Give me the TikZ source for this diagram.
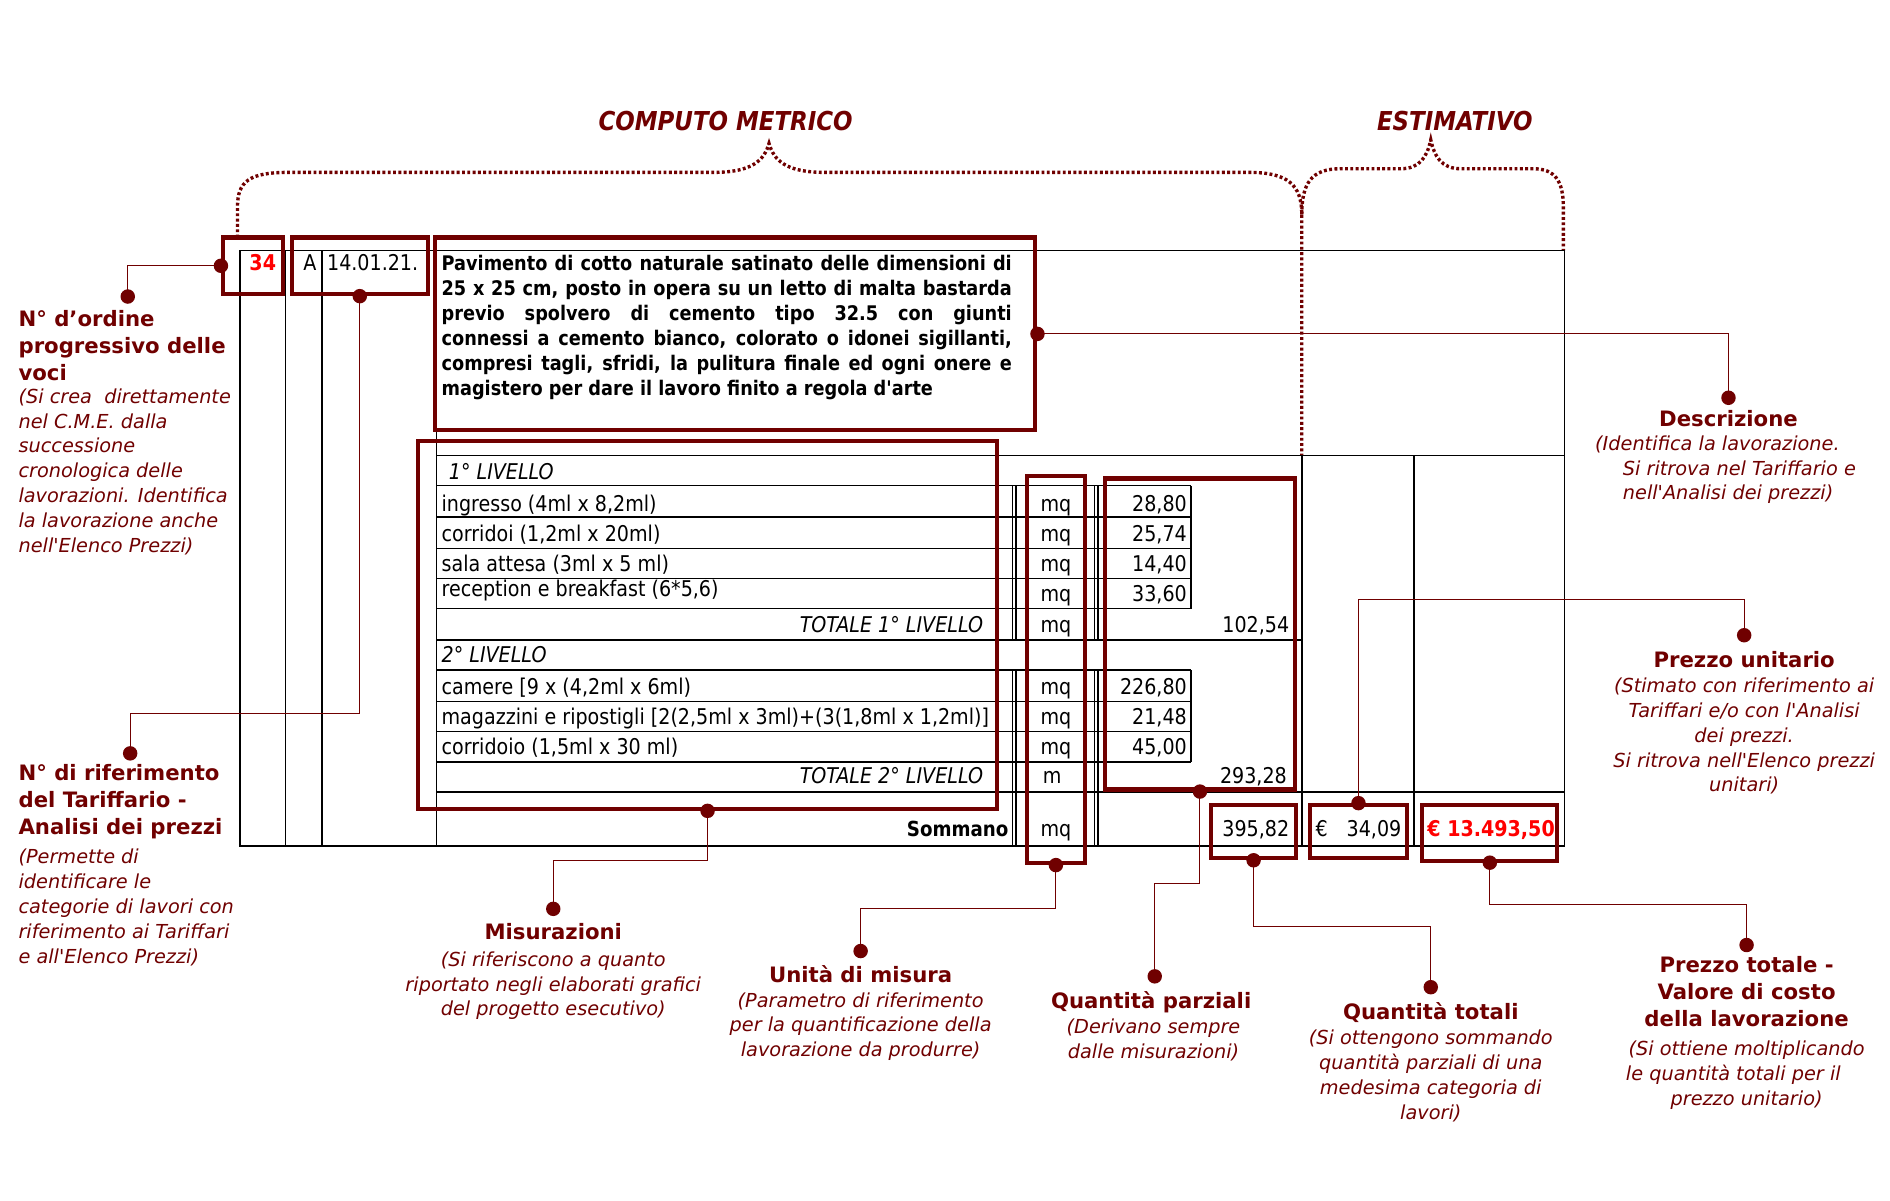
\documentclass[tikz,border=0pt]{standalone}
\usepackage{fontspec}
\setmainfont{DejaVu Sans}
\newfontfamily\notefont{DejaVu Sans}
\newfontfamily\tabfont[FakeStretch=0.88]{DejaVu Sans}
\usetikzlibrary{fit}
\definecolor{maroon}{RGB}{112,0,0}
\definecolor{rosso}{RGB}{255,0,0}
\newcommand{\jl}[1]{\makebox[236.5pt][s]{#1}}

\begin{document}
\begin{tikzpicture}[x=0.5pt,y=-0.5pt,
  tline/.style={line width=0.6pt,black},
  rbox/.style={draw=maroon,line width=1.7pt,inner sep=0pt},
  conn/.style={maroon,line width=0.45pt},
  blob/.style={circle,fill=maroon,inner sep=0pt,minimum size=6pt},
  bracepath/.style={maroon,line width=1.4pt,dash pattern=on 1.2pt off 1pt},
  tcell/.style={font=\tabfont\fontsize{9}{10.5}\selectfont,inner sep=0pt},
  tital/.style={font=\tabfont\itshape\fontsize{9}{10.5}\selectfont,inner sep=0pt},
  ttl/.style={font=\notefont\bfseries\fontsize{8.8}{11.2}\selectfont,text=maroon,inner sep=0pt},
  note/.style={font=\notefont\itshape\fontsize{8}{10.3}\selectfont,text=maroon,inner sep=0pt}]
\useasboundingbox (0,0) rectangle (1568,996);
\fill[white] (0,0) rectangle (1568,996);

% graffe
\node[font=\tabfont\bfseries\itshape\fontsize{10.8}{13}\selectfont,text=maroon] (tcomp) at (602,100) {COMPUTO METRICO};
\node[font=\tabfont\bfseries\itshape\fontsize{10.8}{13}\selectfont,text=maroon] (testi) at (1207,100) {ESTIMATIVO};
\draw[bracepath] (197,197) -- (197,172) .. controls (197,150) and (207,143) .. (240,143) -- (592,143) .. controls (624,143) and (634,133) .. (638,119) .. controls (642,133) and (652,143) .. (684,143) -- (1036,143) .. controls (1068,143) and (1080,153) .. (1080,178) -- (1080,378);
\draw[bracepath] (1080,178) .. controls (1080,152) and (1088,140) .. (1112,140) -- (1162,140) .. controls (1178,140) and (1184,130) .. (1187,116) .. controls (1190,130) and (1196,140) .. (1212,140) -- (1272,140) .. controls (1290,140) and (1297,150) .. (1297,172) -- (1297,208);

% tabella
\draw[tline] (199,208) rectangle (1298,702);
\draw[tline] (237,208) -- (237,702) (267,208) -- (267,702) (362,208) -- (362,702);
\draw[tline] (362,378) -- (1298,378);
\draw[tline] (1080,378) -- (1080,702) (1173,378) -- (1173,702);
\draw[tline] (362,403) -- (988,403) (362,429) -- (988,429) (362,455) -- (988,455) (362,480) -- (988,480) (362,505) -- (988,505);
\draw[tline] (362,556) -- (988,556) (362,582) -- (988,582) (362,607) -- (988,607) (362,632) -- (988,632);
\draw[tline] (362,531) -- (1080,531) (362,657) -- (1298,657);
\draw[tline] (840,403) -- (840,531) (840,556) -- (840,702) (843,403) -- (843,531) (843,556) -- (843,702);
\draw[tline] (908,403) -- (908,531) (908,556) -- (908,702) (911,403) -- (911,531) (911,556) -- (911,702);
\draw[tline] (988,403) -- (988,505) (988,556) -- (988,632);

\node[tcell,anchor=base,text=rosso,font=\tabfont\bfseries\fontsize{9}{10.5}\selectfont] (num) at (218,224) {34};
\node[tcell,anchor=base east] (lett) at (263,224) {A};
\node[tcell,anchor=base west] (data) at (271,224) {14.01.21.};
\node[tcell,anchor=north west,align=left,font=\tabfont\bfseries\fontsize{8.35}{10.4}\selectfont] (descr) at (366,211) {\jl{Pavimento di cotto naturale satinato delle dimensioni di}\\\jl{25 x 25 cm, posto in opera su un letto di malta bastarda}\\\jl{previo spolvero di cemento tipo 32.5 con giunti}\\\jl{connessi a cemento bianco, colorato o idonei sigillanti,}\\\jl{compresi tagli, sfridi, la pulitura finale ed ogni onere e}\\magistero per dare il lavoro finito a regola d'arte};

\node[tital,anchor=base west] (liv1) at (372,398) {1° LIVELLO};
\node[tcell,anchor=base west] (v1) at (366,424) {ingresso (4ml x 8,2ml)};
\node[tcell,anchor=base west] (v2) at (366,449) {corridoi (1,2ml x 20ml)};
\node[tcell,anchor=base west] (v3) at (366,474) {sala attesa (3ml x 5 ml)};
\node[tcell,anchor=base west] (v4) at (366,495) {reception e breakfast (6*5,6)};
\node[tital,anchor=base east] (tot1) at (816,525) {TOTALE 1° LIVELLO};
\node[tital,anchor=base west] (liv2) at (366,550) {2° LIVELLO};
\node[tcell,anchor=base west] (v5) at (366,576) {camere [9 x (4,2ml x 6ml)};
\node[tcell,anchor=base west] (v6) at (366,601) {magazzini e ripostigli [2(2,5ml x 3ml)+(3(1,8ml x 1,2ml)]};
\node[tcell,anchor=base west] (v7) at (366,626) {corridoio (1,5ml x 30 ml)};
\node[tital,anchor=base east] (tot2) at (816,650) {TOTALE 2° LIVELLO};
\node[tcell,anchor=base east,font=\tabfont\bfseries\fontsize{8.6}{10.5}\selectfont] (somm) at (837,694) {Sommano};

\node[tcell,anchor=base] (u1) at (876,424) {mq};
\node[tcell,anchor=base] (u2) at (876,449) {mq};
\node[tcell,anchor=base] (u3) at (876,474) {mq};
\node[tcell,anchor=base] (u4) at (876,499) {mq};
\node[tcell,anchor=base] (u5) at (876,525) {mq};
\node[tcell,anchor=base] (u6) at (876,576) {mq};
\node[tcell,anchor=base] (u7) at (876,601) {mq};
\node[tcell,anchor=base] (u8) at (876,626) {mq};
\node[tcell,anchor=base east] (u9) at (881,650) {m};
\node[tcell,anchor=base] (u10) at (876,694) {mq};

\node[tcell,anchor=base east] (q1) at (985,424) {28,80};
\node[tcell,anchor=base east] (q2) at (985,449) {25,74};
\node[tcell,anchor=base east] (q3) at (985,474) {14,40};
\node[tcell,anchor=base east] (q4) at (985,499) {33,60};
\node[tcell,anchor=base east] (q5) at (985,576) {226,80};
\node[tcell,anchor=base east] (q6) at (985,601) {21,48};
\node[tcell,anchor=base east] (q7) at (985,626) {45,00};
\node[tcell,anchor=base east] (s1) at (1070,525) {102,54};
\node[tcell,anchor=base east] (s2) at (1068,650) {293,28};
\node[tcell,anchor=base east] (s3) at (1070,694) {395,82};
\node[tcell,anchor=base west] (eur) at (1091,694) {€};
\node[tcell,anchor=base east] (pu) at (1163,694) {34,09};
\node[tcell,anchor=base,text=rosso,font=\tabfont\bfseries\fontsize{9}{10.5}\selectfont] (ptot) at (1237,694) {€ 13.493,50};

% riquadri
\node[rbox,fit={(185,197) (235,244)}] (b34) {};
\node[rbox,fit={(242,197) (355,244)}] (bdate) {};
\node[rbox,fit={(361,197) (859,357)}] (bdesc) {};
\node[rbox,fit={(347,366) (827,671)}] (bmis) {};
\node[rbox,fit={(852,395) (900,716)}] (bunit) {};
\node[rbox,fit={(917,397) (1074,655)}] (bpar) {};
\node[rbox,fit={(1005,668) (1075,712)}] (btot) {};
\node[rbox,fit={(1087,668) (1167,712)}] (bprice) {};
\node[rbox,fit={(1180,668) (1292,714)}] (bval) {};

% richiami
\node[blob] (k34) at (b34.west) {};
\node[blob] (kdate) at (bdate.south) {};
\node[blob] (kdesc) at (bdesc.east) {};
\node[blob] (kmis) at (bmis.south) {};
\node[blob] (kunit) at (bunit.south) {};
\node[blob] (kpar) at (bpar.south) {};
\node[blob] (ktot) at (btot.south) {};
\node[blob] (kprice) at (bprice.north) {};
\node[blob] (kval) at (bval.south) {};
\node[blob] (d34) at (106,246) {};
\node[blob] (ddate) at (108,625) {};
\node[blob] (ddesc) at (1434,330) {};
\node[blob] (dmis) at (459,754) {};
\node[blob] (dunit) at (714,789) {};
\node[blob] (dpar) at (958,810) {};
\node[blob] (dtot) at (1187,819) {};
\node[blob] (dprice) at (1447,527) {};
\node[blob] (dval) at (1449,784) {};
\draw[conn] (k34.center) -| (d34.center);
\draw[conn] (kdate.center) -- ++(0,346) -| (ddate.center);
\draw[conn] (kdesc.center) -| (ddesc.center);
\draw[conn] (kmis.center) -- ++(0,41) -| (dmis.center);
\draw[conn] (kunit.center) -- ++(0,36) -| (dunit.center);
\draw[conn] (kpar.center) -- ++(0,76) -| (dpar.center);
\draw[conn] (ktot.center) -- ++(0,55) -| (dtot.center);
\draw[conn] (kprice.center) -- ++(0,-169) -| (dprice.center);
\draw[conn] (kval.center) -- ++(0,35) -| (dval.center);

% didascalie
\node[ttl,anchor=north west,align=left] (tord) at (15,257) {N° d’ordine\\progressivo delle\\voci};
\node[note,anchor=north west,align=left] (nord) at (15,322) {(Si crea\ \ direttamente\\nel C.M.E. dalla\\successione\\cronologica delle\\lavorazioni. Identifica\\la lavorazione anche\\nell'Elenco Prezzi)};
\node[ttl,anchor=north west,align=left] (ttar) at (15,634) {N° di riferimento\\del Tariffario -\\Analisi dei prezzi};
\node[note,anchor=north west,align=left] (ntar) at (15,704) {(Permette di\\identificare le\\categorie di lavori con\\riferimento ai Tariffari\\e all'Elenco Prezzi)};
\node[ttl,anchor=north] (tdesc) at (1434,340) {Descrizione};
\node[note,anchor=north west,align=left] (ndesc) at (1323,361) {(Identifica la lavorazione.\\\hspace*{11.5pt}Si ritrova nel Tariffario e\\\hspace*{11.5pt}nell'Analisi dei prezzi)};
\node[ttl,anchor=north] (tprice) at (1447,540) {Prezzo unitario};
\node[note,anchor=north,align=center] (nprice) at (1447,562) {(Stimato con riferimento ai\\Tariffari e/o con l'Analisi\\dei prezzi.\\Si ritrova nell'Elenco prezzi\\unitari)};
\node[ttl,anchor=north] (tmis) at (459,766) {Misurazioni};
\node[note,anchor=north,align=center] (nmis) at (459,789) {(Si riferiscono a quanto\\riportato negli elaborati grafici\\del progetto esecutivo)};
\node[ttl,anchor=north] (tunit) at (714,801) {Unità di misura};
\node[note,anchor=north,align=center] (nunit) at (714,823) {(Parametro di riferimento\\per la quantificazione della\\lavorazione da produrre)};
\node[ttl,anchor=north] (tpar) at (955,822) {Quantità parziali};
\node[note,anchor=north,align=center] (npar) at (957,845) {(Derivano sempre\\dalle misurazioni)};
\node[ttl,anchor=north] (ttot) at (1187,831) {Quantità totali};
\node[note,anchor=north,align=center] (ntot) at (1187,854) {(Si ottengono sommando\\quantità parziali di una\\medesima categoria di\\lavori)};
\node[ttl,anchor=north,align=center] (tval) at (1449,793) {Prezzo totale -\\Valore di costo\\della lavorazione};
\node[note,anchor=north,align=center] (nval) at (1449,863) {(Si ottiene moltiplicando\\\hspace*{-11pt}le quantità totali per il\\prezzo unitario)};
\end{tikzpicture}
\end{document}
